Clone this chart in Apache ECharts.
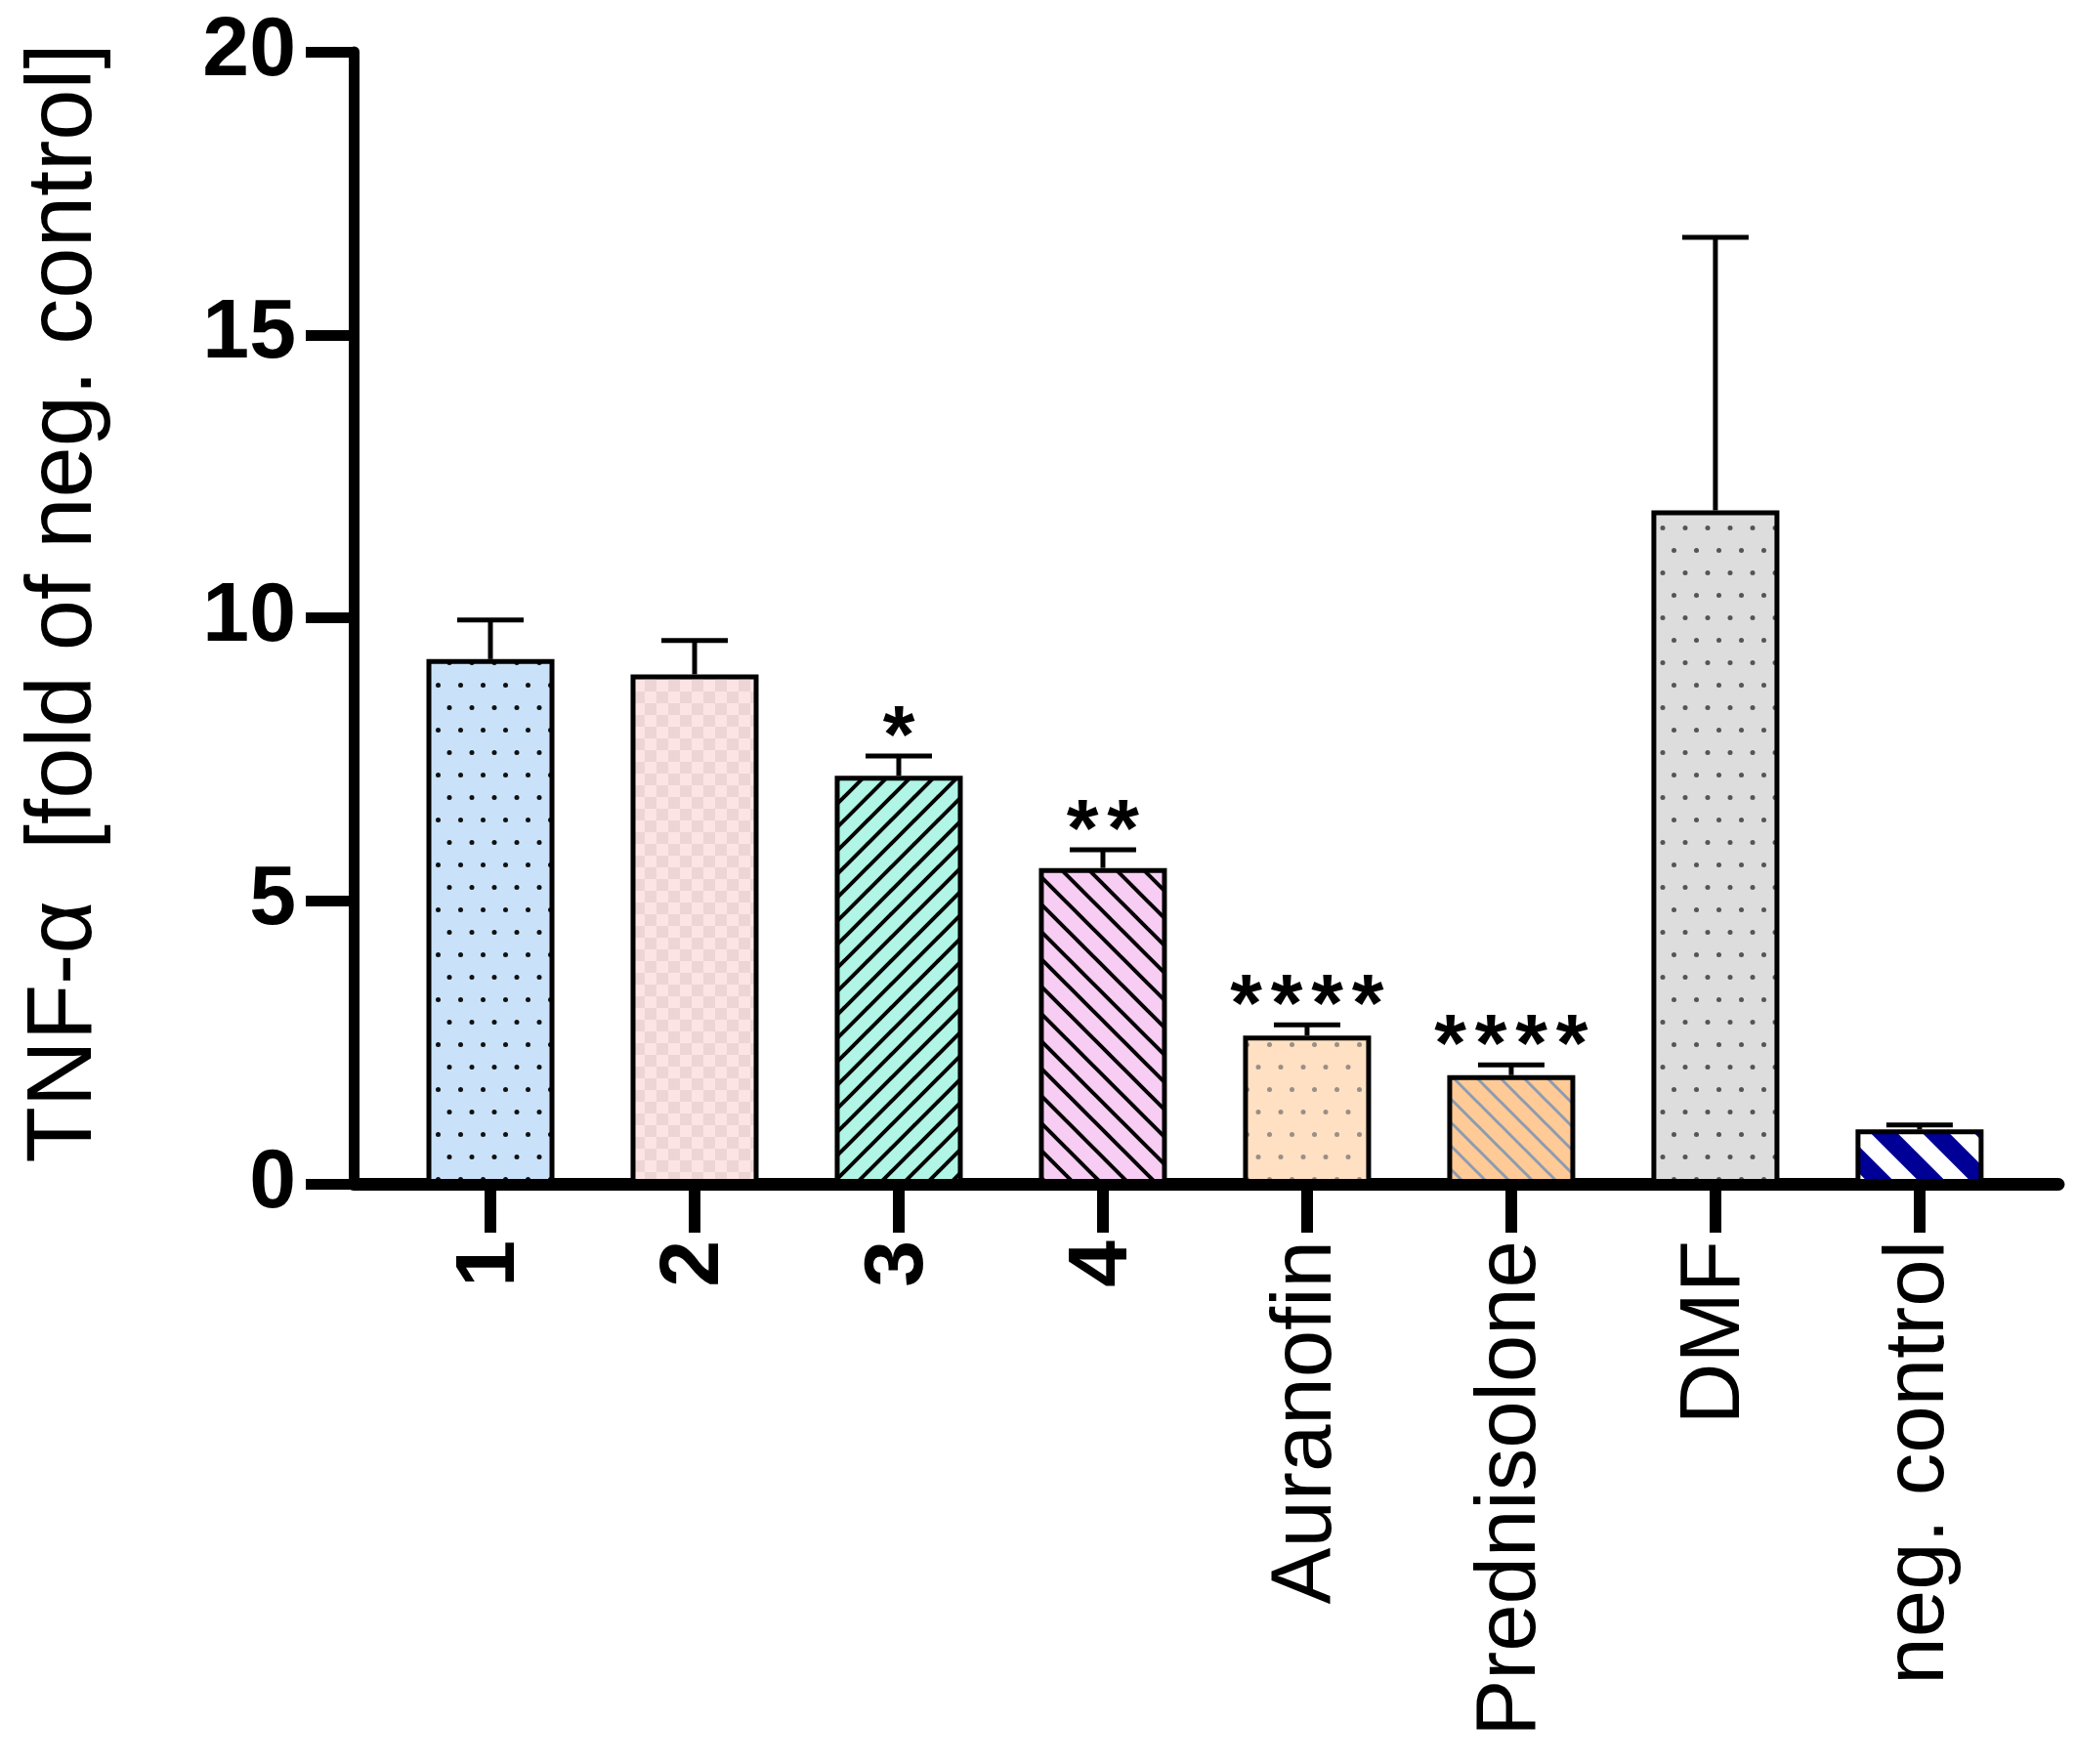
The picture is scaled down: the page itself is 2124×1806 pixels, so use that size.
<!DOCTYPE html>
<html>
<head>
<meta charset="utf-8">
<script src="https://cdn.jsdelivr.net/npm/echarts@6/dist/echarts.min.js"></script>
<style>
html,body{margin:0;padding:0;background:#fff;}
#chart{width:2124px;height:1806px;}
</style>
</head>
<body>
<div id="chart"></div>
<script>
// ---- data ----
const categories = ['1', '2', '3', '4', 'Auranofin', 'Prednisolone', 'DMF', 'neg. control'];
const meanValues = [9.27, 9.0, 7.21, 5.58, 2.62, 1.92, 11.9, 0.96];
const errorValues = [0.69, 0.6, 0.35, 0.32, 0.19, 0.18, 4.82, 0.08];
const significance = ['', '', '*', '**', '****', '****', '', ''];
const yTickInterval = 5;
const yMax = 20;

const FONT = 'Liberation Sans, Arial, sans-serif';

// ---- pattern helpers ----
function makeCanvas(w, h) {
  const c = document.createElement('canvas');
  c.width = w; c.height = h;
  return c;
}
function dotPattern(bg, dot, step, r) {
  const c = makeCanvas(step, step * 2);
  const g = c.getContext('2d');
  g.fillStyle = bg; g.fillRect(0, 0, step, step * 2);
  g.fillStyle = dot;
  const pts = [[step / 2, step / 2], [0, step * 1.5], [step, step * 1.5]];
  pts.forEach(p => { g.beginPath(); g.arc(p[0], p[1], r, 0, Math.PI * 2); g.fill(); });
  return { image: c, repeat: 'repeat' };
}
function checkerPattern(a, b, cell) {
  const c = makeCanvas(cell * 2, cell * 2);
  const g = c.getContext('2d');
  g.fillStyle = a; g.fillRect(0, 0, cell * 2, cell * 2);
  g.fillStyle = b; g.fillRect(cell, 0, cell, cell); g.fillRect(0, cell, cell, cell);
  return { image: c, repeat: 'repeat' };
}
function hatchPattern(bg, line, period, width, dir) {
  const c = makeCanvas(period, period);
  const g = c.getContext('2d');
  g.fillStyle = bg; g.fillRect(0, 0, period, period);
  g.strokeStyle = line; g.lineWidth = width; g.lineCap = 'square';
  for (let k = -1; k <= 1; k++) {
    g.beginPath();
    if (dir === '/') { g.moveTo(k * period, period); g.lineTo(k * period + period, 0); }
    else { g.moveTo(k * period, 0); g.lineTo(k * period + period, period); }
    g.stroke();
  }
  return { image: c, repeat: 'repeat' };
}

const fills = [
  dotPattern('#c9e2f9', '#111', 23, 2.5),
  checkerPattern('#fde4e4', '#eed5d5', 12),
  hatchPattern('#b0f5e5', '#000', 24, 4, '/'),
  hatchPattern('#f8cdf3', '#000', 28, 4, '\\'),
  dotPattern('#ffe0c3', '#9a8f86', 23, 2.5),
  hatchPattern('#ffca96', '#8d9bb0', 24, 3, '\\'),
  dotPattern('#dddddd', '#555', 23, 2.5),
  hatchPattern('#000096', '#ffffff', 53, 18, '\\')
];

const chart = echarts.init(document.getElementById('chart'), null, { renderer: 'canvas' });

const idx = categories.map((c, i) => i);

const option = {
  backgroundColor: '#ffffff',
  animation: false,
  grid: { left: 362, right: 17, top: 53, bottom: 594 },
  xAxis: {
    type: 'value',
    min: -0.67,
    max: 7.68,
    splitLine: { show: false },
    axisLine: { show: true, onZero: false, lineStyle: { color: '#000', width: 13 } },
    axisTick: { show: true, customValues: idx, length: 50, lineStyle: { color: '#000', width: 12 } },
    axisLabel: {
      show: true,
      customValues: idx,
      rotate: 90,
      margin: 58,
      color: '#000',
      formatter: function (v) {
        const name = categories[Math.round(v)];
        return /^\d+$/.test(name) ? '{b|' + name + '}' : '{n|' + name + '}';
      },
      rich: {
        b: { fontFamily: FONT, fontWeight: 'bold', fontSize: 86, color: '#000' },
        n: { fontFamily: FONT, fontWeight: 'normal', fontSize: 87, color: '#000' }
      }
    }
  },
  yAxis: {
    type: 'value',
    min: 0,
    max: yMax,
    interval: yTickInterval,
    splitLine: { show: false },
    axisLine: { show: true, onZero: false, lineStyle: { color: '#000', width: 11 } },
    axisTick: { show: true, length: 49, lineStyle: { color: '#000', width: 11 } },
    axisLabel: { fontFamily: FONT, fontWeight: 'bold', fontSize: 86, color: '#000', margin: 59 },
    name: 'TNF-\u03b1  [fold of neg. control]',
    nameLocation: 'middle',
    nameGap: 248,
    nameTextStyle: { fontFamily: FONT, fontSize: 94, color: '#000', padding: [0, 0, 0, 30] }
  },
  series: [
    {
      type: 'bar',
      barWidth: 131,
      z: 2,
      silent: true,
      itemStyle: { borderColor: '#000', borderWidth: 5 },
      data: meanValues.map((v, i) => ({ value: [i, v], itemStyle: { color: fills[i] } }))
    },
    {
      type: 'custom',
      z: 3,
      silent: true,
      data: meanValues.map((v, i) => [i, v, errorValues[i]]),
      renderItem: function (params, api) {
        const x = api.value(0), m = api.value(1), e = api.value(2);
        const base = api.coord([x, m]);
        const top = api.coord([x, m + e]);
        const half = 34;
        const children = [
          { type: 'line', shape: { x1: base[0], y1: base[1], x2: top[0], y2: top[1] },
            style: { stroke: '#000', lineWidth: 5 } },
          { type: 'line', shape: { x1: top[0] - half, y1: top[1], x2: top[0] + half, y2: top[1] },
            style: { stroke: '#000', lineWidth: 5 } }
        ];
        const s = significance[params.dataIndex];
        const n = s.length;
        const gap = 41.5;
        for (let k = 0; k < n; k++) {
          children.push({
            type: 'text',
            style: {
              text: '*', x: top[0] + (k - (n - 1) / 2) * gap, y: top[1] - 16,
              fontFamily: FONT, fontWeight: 'bold', fontSize: 84, fill: '#000',
              align: 'center', verticalAlign: 'middle'
            }
          });
        }
        return { type: 'group', children: children };
      }
    }
  ]
};
chart.setOption(option);
</script>
</body>
</html>
